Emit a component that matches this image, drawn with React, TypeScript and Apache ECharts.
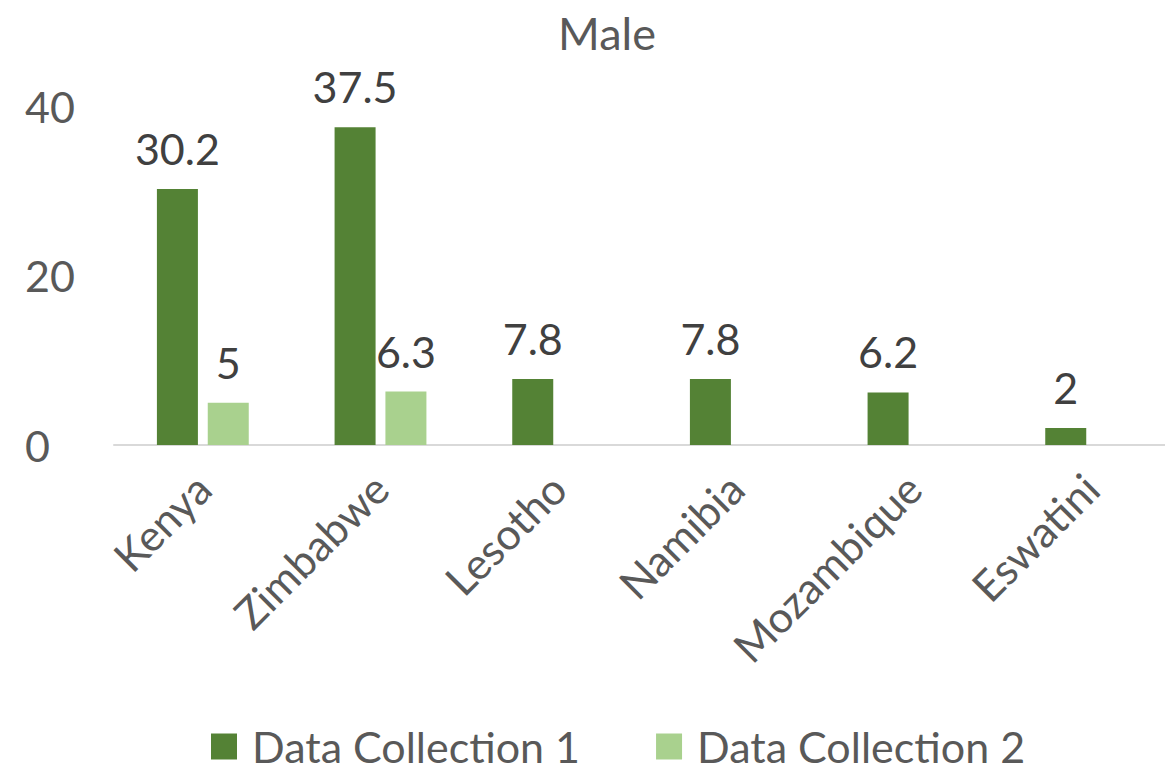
import React, { useEffect, useRef } from "react";
import * as echarts from "echarts";

const categories = ["Kenya", "Zimbabwe", "Lesotho", "Namibia", "Mozambique", "Eswatini"];
const collection1 = [30.2, 37.5, 7.8, 7.8, 6.2, 2];
const collection2: (number | null)[] = [5, 6.3, null, null, null, null];
const seriesNames = ["Data Collection 1", "Data Collection 2"];
const yTicks = { min: 0, max: 40, interval: 20 };

const FONT = "Lato";
const FS = 43;

export default function App() {
  const ref = useRef<HTMLDivElement>(null);
  useEffect(() => {
    document.body.style.margin = "0";
    const chart = echarts.init(ref.current!, null, { renderer: "svg" });
    const labelStyle = {
      show: true,
      position: "top" as const,
      distance: 19,
      color: "#404040",
      fontSize: FS,
      fontFamily: FONT,
    };
    chart.setOption({
      animation: false,
      backgroundColor: "#ffffff",
      title: {
        text: "Male",
        left: "center",
        top: 5,
        textStyle: { color: "#595959", fontSize: FS + 2, fontWeight: "normal", fontFamily: FONT },
      },
      legend: {
        bottom: -1,
        left: 206,
        itemWidth: 26,
        itemHeight: 26,
        itemGap: 76,
        icon: "rect",
        textStyle: { color: "#595959", fontSize: FS, fontFamily: FONT, padding: [0, 0, 0, 10] },
        data: seriesNames,
      },
      grid: { left: 114, top: 106, right: 34, height: 339, containLabel: false },
      xAxis: {
        type: "category",
        data: categories,
        axisLine: { lineStyle: { color: "#d9d9d9", width: 2 } },
        axisTick: { show: false },
        axisLabel: {
          rotate: 45,
          interval: 0,
          margin: 36,
          color: "#595959",
          fontSize: FS,
          fontFamily: FONT,
        },
      },
      yAxis: {
        type: "value",
        min: yTicks.min,
        max: yTicks.max,
        interval: yTicks.interval,
        splitLine: { show: false },
        axisLine: { show: false },
        axisTick: { show: false },
        axisLabel: {
          color: "#595959",
          fontSize: FS,
          fontFamily: FONT,
          align: "left",
          margin: 89,
        },
      },
      series: [
        {
          name: seriesNames[0],
          type: "bar",
          data: collection1,
          barWidth: 41,
          barGap: "24%",
          itemStyle: { color: "#548235" },
          label: labelStyle,
        },
        {
          name: seriesNames[1],
          type: "bar",
          data: collection2,
          barWidth: 41,
          itemStyle: { color: "#a9d18e" },
          label: labelStyle,
        },
      ],
    });
    return () => chart.dispose();
  }, []);
  return (
    <div style={{ width: 1165, height: 772, overflow: "hidden", position: "relative" }}>
      <div ref={ref} style={{ width: 1214, height: 772 }} />
    </div>
  );
}
